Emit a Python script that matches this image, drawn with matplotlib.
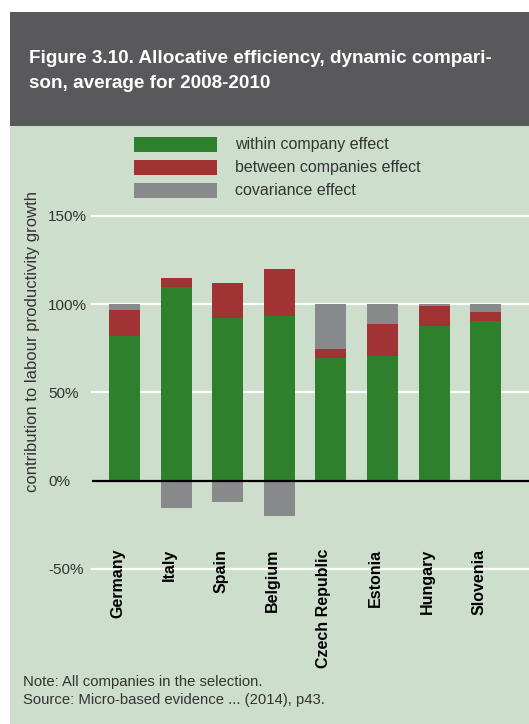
import numpy as np
import matplotlib
matplotlib.use("Agg")
import matplotlib.pyplot as plt
from matplotlib.patches import Rectangle

# ---- data -------------------------------------------------------------
countries = ["Germany", "Italy", "Spain", "Belgium",
             "Czech Republic", "Estonia", "Hungary", "Slovenia"]
within_effect = [82, 109.5, 92, 93.5, 69.5, 70.5, 87.5, 90.5]
between_effect = [14.5, 5, 20, 26.5, 5, 18, 11.5, 5]
covariance_effect = [3.5, -15.5, -12, -20, 25.5, 11.5, 1, 4.5]

series_names = ["within company effect", "between companies effect", "covariance effect"]
y_ticks = [-50, 0, 50, 100, 150]
y_tick_labels = ["-50%", "0%", "50%", "100%", "150%"]

title_lines = ["Figure 3.10. Allocative efficiency, dynamic compari-",
               "son, average for 2008-2010"]
y_label = "contribution to labour productivity growth"
note_lines = ["Note: All companies in the selection.",
              "Source: Micro-based evidence ... (2014), p43."]

# ---- style ------------------------------------------------------------
GREEN = "#2e802c"
RED = "#a13335"
GREY = "#88898b"
PANEL = "#cddfcc"
HEADER = "#59595b"
TEXT = "#333333"
colors = [GREEN, RED, GREY]

plt.rcParams["font.family"] = ["Liberation Sans", "DejaVu Sans"]

W, H = 529, 724
fig = plt.figure(figsize=(W / 100, H / 100), dpi=100, facecolor="white")


def fx(px):
    return px / W


def fy(py):
    return 1 - py / H


# panel background and header band
fig.patches.append(Rectangle((fx(10), 0), 1 - fx(10), fy(125.7), transform=fig.transFigure,
                             facecolor=PANEL, edgecolor="none", zorder=-10))
fig.patches.append(Rectangle((fx(10), fy(125.7)), 1 - fx(10), fy(12) - fy(125.7),
                             transform=fig.transFigure, facecolor=HEADER,
                             edgecolor="none", zorder=-10))

fig.text(fx(29), fy(63), title_lines[0], color="white", fontsize=13.6,
         fontweight="bold", va="baseline", ha="left")
fig.text(fx(29), fy(88), title_lines[1], color="white", fontsize=13.6,
         fontweight="bold", va="baseline", ha="left")

# ---- axes -------------------------------------------------------------
ax_left, ax_bottom_px, ax_top_px = 92, 569, 215.7
ax = fig.add_axes([fx(ax_left), fy(ax_bottom_px), 1 - fx(ax_left),
                   fy(ax_top_px) - fy(ax_bottom_px)])
ax.set_facecolor("none")
ax.set_zorder(1)

x = np.arange(len(countries))
within = np.array(within_effect)
between = np.array(between_effect)
cov = np.array(covariance_effect)

ax.bar(x, within, width=0.6, color=GREEN, zorder=3)
ax.bar(x, between, width=0.6, bottom=within, color=RED, zorder=3)
cov_bottom = np.where(cov >= 0, within + between, 0)
ax.bar(x, cov, width=0.6, bottom=cov_bottom, color=GREY, zorder=3)

ax.set_xlim(-0.63, 7.84)
ax.set_ylim(-50, 150)
for t in y_ticks:
    if t != 0:
        ax.axhline(t, color="white", lw=1.6, zorder=1, clip_on=False)
ax.axhline(0, color="black", lw=1.6, zorder=4)

for s in ax.spines.values():
    s.set_visible(False)
ax.set_xticks([])
ax.set_yticks(y_ticks)
ax.set_yticklabels(y_tick_labels, fontsize=11, color=TEXT)
ax.tick_params(axis="y", length=0, pad=31.7)
for lbl in ax.get_yticklabels():
    lbl.set_horizontalalignment("left")

# rotated category names sitting above the -50% line
for xi, name in zip(x, countries):
    ax.text(xi + 0.01, -38.5, name, rotation=90, ha="right", va="top",
            fontsize=11.5, fontweight="bold", color="black", clip_on=False,
            zorder=5)

fig.text(fx(33), fy(341), y_label, rotation=90, ha="center", va="center",
         fontsize=12, color=TEXT)

# ---- legend -----------------------------------------------------------
row_centres = [144.5, 167.5, 190.5]
for name, col, yc in zip(series_names, colors, row_centres):
    fig.patches.append(Rectangle((fx(134), fy(yc + 7.5)), fx(83), 15 / H,
                                 transform=fig.transFigure, facecolor=col,
                                 edgecolor="none", zorder=2))
    fig.text(fx(235), fy(yc), name, fontsize=11.5, color=TEXT,
             ha="left", va="center")

# ---- notes ------------------------------------------------------------
fig.text(fx(23), fy(686), note_lines[0], fontsize=10.7, color=TEXT,
         ha="left", va="baseline")
fig.text(fx(23), fy(704), note_lines[1], fontsize=10.7, color=TEXT,
         ha="left", va="baseline")

fig.savefig("out.png", dpi=100, facecolor=fig.get_facecolor())
